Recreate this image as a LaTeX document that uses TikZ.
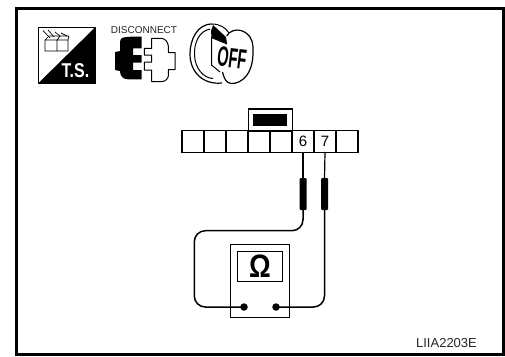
\documentclass[tikz,border=0pt]{standalone}
\usepackage{fontspec}
\setmainfont{Liberation Sans}
\tikzset{
 cellbox/.style={draw=black,line width=1.1pt,minimum width=22pt,minimum height=22pt,inner sep=0pt,outer sep=0pt,font=\fontsize{15}{15}\selectfont},
 wire/.style={draw=black,line width=1.5pt,rounded corners=11pt},
 lead/.style={draw=black,line width=1.2pt},
 probe/.style={fill=black,rounded corners=1pt,minimum width=7pt,minimum height=32pt,inner sep=0pt},
 jack/.style={circle,fill=black,minimum size=7.5pt,inner sep=0pt},
 inkline/.style={draw=black,line width=1pt,line join=round}
}
\begin{document}
\begin{tikzpicture}[x=1pt,y=-1pt]
\useasboundingbox (0,0) rectangle (505,356);
\fill[white] (0,0) rectangle (505,356);
\draw[black,line width=3pt] (16.5,8.5) -- (503,8.5) (16.5,7) -- (16.5,356) (15,354) -- (505,354) (503,7) -- (503,356);
% T.S. icon
\draw[inkline,line width=0.8pt] (38.5,27.5) rectangle (95,83);
\fill[black] (95,27.5) -- (95,83) -- (38.5,83) -- cycle;
\node[text=white,font=\bfseries\fontsize{20}{20}\selectfont,inner sep=0pt,xscale=.8] (ts) at (75.5,70.5) {T.S.};
\draw[inkline,line width=0.7pt] (45,40) rectangle (57,51) (57,40) rectangle (68,51) (45,40) -- (49,36) -- (69,36) -- (68,40) (57,40) -- (60,36);
\draw[inkline,line width=0.7pt] (43,30.5) -- (50,38) (48,30) -- (54,37) (55,32) -- (60,36) (61,33) -- (67,36);
% disconnect
\node[font=\fontsize{10}{10}\selectfont,inner sep=0pt,text=black!85] (dis) at (144,30) {DISCONNECT};
\fill[black] (122,38) .. controls (126,36.5) and (130,36.7) .. (141.7,36.7) -- (141.7,48.3) -- (133,48.3) -- (133,55) -- (141.7,55) -- (141.7,62.5) -- (133,62.5) -- (133,70) -- (141.7,70) -- (141.7,79.3) -- (128,79.3) .. controls (123,79.3) and (120,76) .. (120,71) -- (115,70) -- (115,52) -- (120,51) -- (120,42) .. controls (120,40) and (121,39) .. (122,38) -- cycle;
\draw[inkline] (151.7,48.3) -- (151.7,38.3) -- (161,38.3) .. controls (165,38.3) and (168,42) .. (168.3,46) -- (168.3,52.5) -- (175,52.5) -- (175,69.5) -- (168.3,69.5) -- (168.3,76) .. controls (168,79) and (165,81.7) .. (161,81.7) -- (151.7,81.7) -- (151.7,70) -- (144.3,70) -- (144.3,62.2) -- (151.7,62.2) -- (151.7,55.2) -- (144.3,55.2) -- (144.3,48.3) -- cycle;
% key
\draw[inkline,line width=1.2pt] (212,24) .. controls (197,24) and (190,40) .. (190,54) .. controls (190,72) and (203,85) .. (222,83);
\draw[inkline] (210,29) .. controls (199,31) and (194,43) .. (194.5,55) .. controls (195,68) and (203,78) .. (213,78.5);
\draw[inkline] (212,24) .. controls (220,24) and (226,28) .. (229,33);
\fill[black] (211,31) -- (213,25) -- (226,37) -- (227,43.5) -- (211.5,37.5) -- cycle;
\draw[inkline] (211.5,37) -- (211.5,65) -- (220,72) (211.5,37.5) -- (227,44);
\draw[inkline,line width=1.2pt] (226.7,36) .. controls (229,31) and (236,29) .. (241,30.5) .. controls (249,33) and (253,40) .. (253,47) .. controls (253.5,58) and (252,68) .. (247,75) .. controls (243,81) and (236,84) .. (231,83.5) .. controls (226,83) and (224,78) .. (222.5,72);
\node[font=\bfseries\fontsize{28}{28}\selectfont,inner sep=0pt,rotate=-7] (off) at (232,58) {\scalebox{.52}[1]{OFF}};
% connector
\node[draw=black,line width=1.1pt,minimum width=43.6pt,minimum height=22pt,inner sep=0pt] (hood) at (270.5,120) {};
\node[fill=black,minimum width=34pt,minimum height=12pt,inner sep=0pt] (latch) at (270,120) {};
\node[cellbox] (c1) at (193,141.7) {};
\node[cellbox] (c2) at (215,141.7) {};
\node[cellbox] (c3) at (237,141.7) {};
\node[cellbox] (c4) at (259,141.7) {};
\node[cellbox] (c5) at (281,141.7) {};
\node[cellbox] (c6) at (303,141.7) {6};
\node[cellbox] (c7) at (325,141.7) {7};
\node[cellbox] (c8) at (347,141.7) {};
% probes
\node[probe] (p6) at (303,194) {};
\node[probe] (p7) at (324.5,194) {};
\draw[lead] (c6.south) -- (p6.north);
\draw[lead] (c7.south) -- (p7.north);
% meter
\node[draw=black,line width=1.1pt,minimum width=59.4pt,minimum height=72.6pt,inner sep=0pt] (meter) at (260,281) {};
\node[draw=black,line width=1.3pt,minimum width=44.6pt,minimum height=30pt,inner sep=0pt] (disp) at (260,266.7) {};
\node[font=\bfseries\fontsize{27}{27}\selectfont,inner sep=0pt,yscale=1.2] (omega) at (260,266.5) {Ω};
\node[jack] (j1) at (244,307) {};
\node[jack] (j2) at (276,307) {};
\draw[wire] (p6.south) -- (303,230.7) -- (194.3,230.7) -- (194.3,307) -- (j1.center);
\draw[wire] (j2.center) -- (324.5,307) -- (p7.south);
% label
\node[font=\fontsize{13}{13}\selectfont,inner sep=0pt,text=black!85] (code) at (446.5,343) {LIIA2203E};
\end{tikzpicture}
\end{document}
